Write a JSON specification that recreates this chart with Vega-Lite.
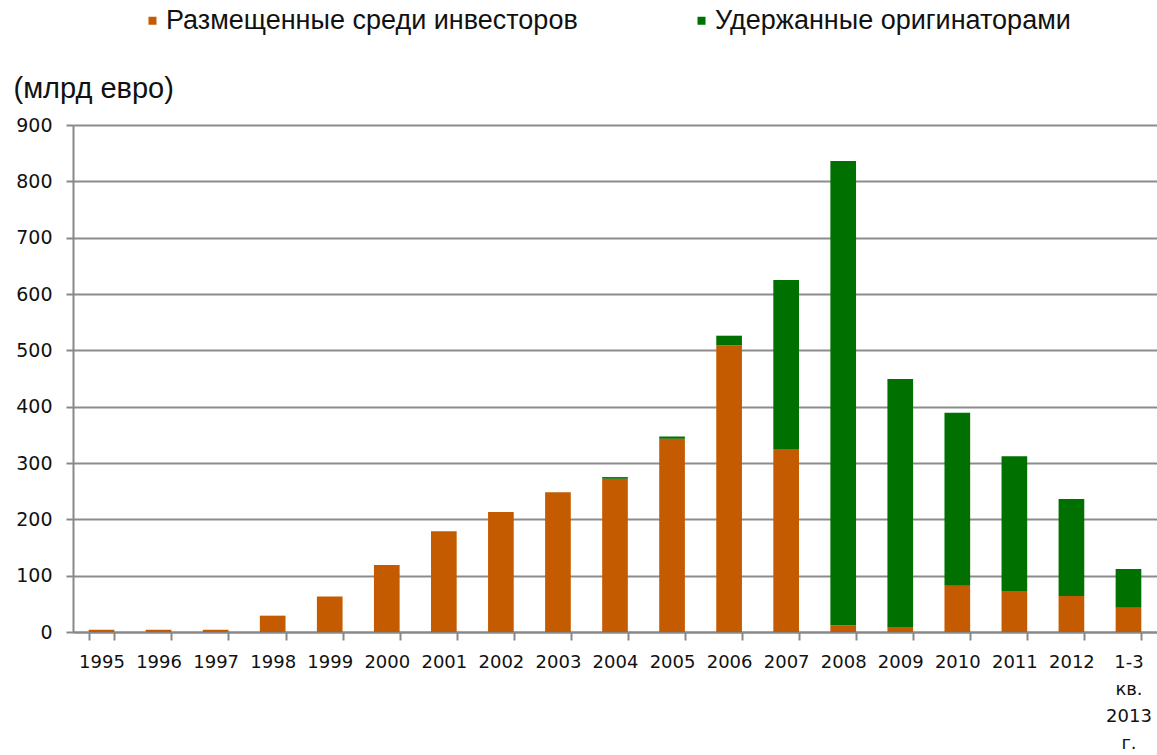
{
  "$schema": "https://vega.github.io/schema/vega-lite/v6.json",
  "autosize": "none",
  "width": 1084,
  "height": 507,
  "padding": {"left": 73, "top": 125, "right": 0, "bottom": 123},
  "background": "white",
  "config": {
    "font": "Liberation Sans",
    "view": {"stroke": null}
  },
  "data": {
    "values": [
      {"year": "1995", "type": "Размещенные среди инвесторов", "o": 1, "value": 4},
      {"year": "1996", "type": "Размещенные среди инвесторов", "o": 1, "value": 4},
      {"year": "1997", "type": "Размещенные среди инвесторов", "o": 1, "value": 4},
      {"year": "1998", "type": "Размещенные среди инвесторов", "o": 1, "value": 29},
      {"year": "1999", "type": "Размещенные среди инвесторов", "o": 1, "value": 63},
      {"year": "2000", "type": "Размещенные среди инвесторов", "o": 1, "value": 119},
      {"year": "2001", "type": "Размещенные среди инвесторов", "o": 1, "value": 179},
      {"year": "2002", "type": "Размещенные среди инвесторов", "o": 1, "value": 213},
      {"year": "2003", "type": "Размещенные среди инвесторов", "o": 1, "value": 248},
      {"year": "2004", "type": "Размещенные среди инвесторов", "o": 1, "value": 272},
      {"year": "2004", "type": "Удержанные оригинаторами", "o": 2, "value": 3},
      {"year": "2005", "type": "Размещенные среди инвесторов", "o": 1, "value": 343},
      {"year": "2005", "type": "Удержанные оригинаторами", "o": 2, "value": 4},
      {"year": "2006", "type": "Размещенные среди инвесторов", "o": 1, "value": 509},
      {"year": "2006", "type": "Удержанные оригинаторами", "o": 2, "value": 17},
      {"year": "2007", "type": "Размещенные среди инвесторов", "o": 1, "value": 325},
      {"year": "2007", "type": "Удержанные оригинаторами", "o": 2, "value": 300},
      {"year": "2008", "type": "Размещенные среди инвесторов", "o": 1, "value": 12},
      {"year": "2008", "type": "Удержанные оригинаторами", "o": 2, "value": 824},
      {"year": "2009", "type": "Размещенные среди инвесторов", "o": 1, "value": 9},
      {"year": "2009", "type": "Удержанные оригинаторами", "o": 2, "value": 440},
      {"year": "2010", "type": "Размещенные среди инвесторов", "o": 1, "value": 82},
      {"year": "2010", "type": "Удержанные оригинаторами", "o": 2, "value": 307},
      {"year": "2011", "type": "Размещенные среди инвесторов", "o": 1, "value": 73},
      {"year": "2011", "type": "Удержанные оригинаторами", "o": 2, "value": 239},
      {"year": "2012", "type": "Размещенные среди инвесторов", "o": 1, "value": 64},
      {"year": "2012", "type": "Удержанные оригинаторами", "o": 2, "value": 172},
      {"year": "1-3 кв. 2013 г.", "type": "Размещенные среди инвесторов", "o": 1, "value": 43},
      {"year": "1-3 кв. 2013 г.", "type": "Удержанные оригинаторами", "o": 2, "value": 69}
    ]
  },
  "mark": {"type": "bar"},
  "encoding": {
    "x": {
      "field": "year",
      "type": "nominal",
      "sort": null,
      "scale": {"paddingInner": 0.55, "paddingOuter": 0.275},
      "axis": {
        "title": null,
        "labelAngle": 0,
        "labelOverlap": false,
        "labelFont": "DejaVu Sans",
        "labelFontSize": 18,
        "labelColor": "#111",
        "labelPadding": 13,
        "labelExpr": "datum.value == '1-3 кв. 2013 г.' ? ['1-3', 'кв.', '2013', 'г.'] : datum.label",
        "labelLineHeight": 27,
        "bandPosition": 0,
        "tickBand": "extent",
        "tickSize": 8,
        "tickColor": "#888",
        "tickWidth": 2,
        "domainColor": "#888",
        "domainWidth": 2,
        "grid": false
      }
    },
    "y": {
      "field": "value",
      "type": "quantitative",
      "aggregate": "sum",
      "stack": "zero",
      "scale": {"domain": [0, 900]},
      "axis": {
        "title": "(млрд евро)",
        "titleAngle": 0,
        "titleAlign": "left",
        "titleBaseline": "middle",
        "titleX": -60,
        "titleY": -37,
        "titleFont": "Liberation Sans",
        "titleFontSize": 29,
        "titleFontWeight": "normal",
        "titleColor": "#111",
        "values": [0, 100, 200, 300, 400, 500, 600, 700, 800, 900],
        "labelFont": "DejaVu Sans",
        "labelFontSize": 19,
        "labelColor": "#111",
        "labelPadding": 14,
        "tickSize": 7,
        "tickColor": "#888",
        "tickWidth": 2,
        "domainColor": "#888",
        "domainWidth": 2,
        "gridColor": "#8c8c8c",
        "gridWidth": 2
      }
    },
    "color": {
      "field": "type",
      "type": "nominal",
      "scale": {
        "domain": ["Размещенные среди инвесторов", "Удержанные оригинаторами"],
        "range": ["#C55B00", "#007100"]
      },
      "legend": {
        "title": null,
        "orient": "none",
        "direction": "horizontal",
        "legendX": 66,
        "legendY": -118,
        "symbolType": "square",
        "symbolSize": 64,
        "symbolStrokeWidth": 0,
        "labelFontSize": 27,
        "labelColor": "#111",
        "labelOffset": 0,
        "columnPadding": 110,
        "labelLimit": 700
      }
    },
    "order": {"field": "o", "type": "quantitative"}
  }
}
